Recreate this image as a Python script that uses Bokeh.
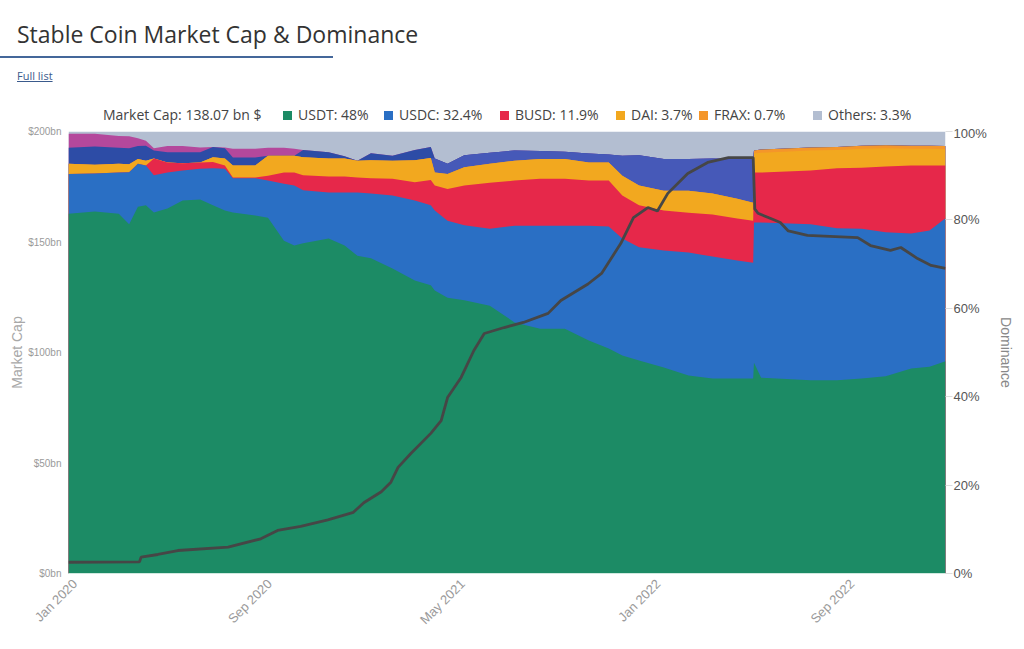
import pandas as pd
from math import pi
from bokeh.plotting import figure
from bokeh.models import (ColumnDataSource, Range1d, LinearAxis, FixedTicker,
                          PrintfTickFormatter, DatetimeTickFormatter, Div)
from bokeh.layouts import column
from bokeh.embed import file_html
from bokeh.resources import INLINE

# ---------------- data (dominance shares in %) ----------------
dates = ["2019-12-24", "2020-01-26", "2020-02-25", "2020-03-09", "2020-03-20", "2020-03-30",
         "2020-04-09", "2020-04-26", "2020-05-15", "2020-06-06", "2020-06-22", "2020-07-07",
         "2020-07-17", "2020-08-14", "2020-08-30", "2020-09-19", "2020-10-02", "2020-10-13",
         "2020-11-14", "2020-12-04", "2020-12-20", "2021-01-06", "2021-02-02", "2021-03-02",
         "2021-03-22", "2021-03-27", "2021-04-12", "2021-05-03", "2021-06-04", "2021-07-05",
         "2021-08-06", "2021-09-06", "2021-10-06", "2021-10-31", "2021-11-17", "2021-12-08",
         "2022-01-08", "2022-02-08", "2022-03-10", "2022-04-10", "2022-04-30", "2022-05-01",
         "2022-05-10", "2022-07-11", "2022-08-13", "2022-09-13", "2022-10-13", "2022-11-14",
         "2022-12-07", "2022-12-27"]
usdt = [81.4, 81.9, 81.4, 79.0, 83.0, 83.3, 81.7, 82.6, 84.4, 84.6, 83.3, 82.1, 81.7, 81.0,
        80.5, 75.3, 74.2, 74.7, 75.8, 74.2, 71.9, 71.3, 69.0, 66.3, 65.2, 64.0, 62.4, 61.8,
        60.6, 56.8, 55.4, 55.4, 52.7, 50.9, 49.3, 48.2, 46.6, 44.8, 44.1, 44.1, 44.1, 47.7,
        44.3, 43.7, 43.7, 44.1, 44.6, 46.4, 46.8, 48.0]
usdc = [9.0, 8.6, 9.3, 11.8, 9.7, 9.0, 8.4, 8.1, 6.8, 7.0, 8.4, 9.5, 7.7, 8.4,
        8.4, 12.9, 13.6, 12.0, 10.4, 12.0, 14.3, 14.7, 16.5, 18.1, 18.1, 18.1, 17.4, 17.0,
        17.4, 21.9, 23.3, 23.3, 26.0, 27.6, 26.5, 25.6, 26.5, 27.8, 27.6, 26.7, 26.2, 31.7,
        35.1, 35.3, 34.4, 33.9, 32.6, 30.5, 30.8, 32.4]
busd = [0.0, 0.0, 0.0, 0.0, 0.0, 0.0, 3.8, 2.3, 1.6, 1.4, 1.4, 0.7, 0.2, 0.2,
        1.1, 2.5, 2.9, 3.4, 3.6, 3.6, 3.4, 3.4, 3.8, 4.1, 5.7, 5.7, 7.2, 9.0,
        10.4, 10.2, 10.6, 10.6, 10.2, 10.4, 9.7, 9.5, 9.0, 9.0, 9.5, 9.5, 9.5, 11.3,
        11.3, 12.2, 13.6, 13.8, 14.9, 15.4, 14.7, 11.9]
dai = [2.3, 2.0, 2.0, 1.8, 1.1, 1.1, 0.0, 0.0, 0.0, 0.0, 1.1, 1.6, 2.7, 2.7,
       4.5, 3.8, 3.8, 4.1, 4.1, 4.1, 3.8, 4.1, 4.1, 5.0, 5.0, 2.9, 3.4, 4.1,
       4.3, 4.5, 4.5, 4.5, 4.1, 4.1, 4.5, 4.5, 4.5, 5.0, 4.8, 4.5, 4.1, 4.3,
       4.5, 4.5, 4.1, 4.3, 4.1, 3.8, 3.8, 3.7]
frax = [0.0] * 41 + [0.7, 0.7, 0.7, 0.7, 0.7, 0.7, 0.7, 0.7, 0.7]
ust = [0.0] * 25 + [3.2, 2.3, 2.7, 2.5, 2.3, 1.8, 1.6, 2.0, 1.8, 4.5, 6.8, 7.2, 7.2, 7.9,
                    9.0, 10.0] + [0.0] * 9
tusd = [3.6, 4.1, 3.6, 3.6, 2.9, 3.4, 1.8, 2.3, 2.5, 2.3, 2.3, 2.3, 1.8, 1.8,
        0.0, 0.0, 0.0, 1.6, 1.4, 0.5, 0.0, 1.6, 1.1, 2.3, 2.5] + [0.0] * 25
pax = [3.2, 2.9, 2.7, 2.7, 1.8, 1.1, 0.5, 1.4, 1.4, 1.1, 0.0, 0.2, 2.0, 2.0,
       1.8, 1.8, 1.6] + [0.0] * 33
others = [0.5, 0.5, 1.0, 1.1, 1.5, 2.1, 3.8, 3.3, 3.3, 3.6, 3.5, 3.6, 3.9, 3.9,
          3.7, 3.7, 3.9, 4.2, 4.7, 5.6, 6.6, 4.9, 5.5, 4.2, 3.5, 6.1, 7.3, 5.4,
          4.8, 4.3, 4.4, 4.6, 5.0, 5.2, 5.5, 5.4, 6.2, 6.2, 6.1, 6.2, 6.1, 4.3,
          4.1, 3.6, 3.5, 3.2, 3.1, 3.2, 3.2, 3.3]

# total market cap (bn $)
mcap_dates = ["2019-12-24", "2020-03-22", "2020-03-24", "2020-04-14", "2020-05-09", "2020-07-11",
              "2020-08-21", "2020-09-11", "2020-10-10", "2020-11-13", "2020-12-15", "2020-12-28",
              "2021-01-19", "2021-01-31", "2021-02-09", "2021-02-25", "2021-03-22", "2021-04-04",
              "2021-04-12", "2021-04-29", "2021-05-15", "2021-05-28", "2021-06-22", "2021-07-16",
              "2021-08-16", "2021-09-01", "2021-10-05", "2021-10-22", "2021-11-15", "2021-12-01",
              "2021-12-19", "2021-12-31", "2022-01-13", "2022-02-07", "2022-03-04", "2022-03-30",
              "2022-04-30", "2022-05-02", "2022-05-06", "2022-05-22", "2022-06-03", "2022-06-13",
              "2022-07-07", "2022-09-08", "2022-09-24", "2022-10-19", "2022-11-01", "2022-11-22",
              "2022-12-09", "2022-12-27"]
mcap_bn = [5.1, 5.3, 7.4, 8.6, 10.4, 11.9, 15.7, 19.5, 21.3, 24.3, 27.7, 32.0,
           37.0, 41.3, 48.0, 54.3, 63.4, 69.2, 79.6, 88.7, 100.9, 108.6, 111.3, 113.6,
           117.7, 123.5, 131.0, 135.8, 149.3, 161.0, 165.6, 164.0, 172.0, 181.0, 186.0, 188.2,
           188.2, 165.0, 163.0, 160.6, 158.8, 155.0, 153.0, 152.0, 148.4, 146.2, 147.5, 142.5,
           139.4, 138.07]

tick_dates = ["2020-01-01", "2020-09-01", "2021-05-01", "2022-01-01", "2022-09-01"]
cap_ticks = [0, 50, 100, 150, 200]
dom_ticks = [0, 20, 40, 60, 80, 100]
title_text = "Stable Coin Market Cap &amp; Dominance"
market_cap_text = "Market Cap: 138.07 bn $"
legend_labels = ["USDT: 48%", "USDC: 32.4%", "BUSD: 11.9%", "DAI: 3.7%", "FRAX: 0.7%", "Others: 3.3%"]

# ---------------- styling ----------------
layer_names = ["USDT", "USDC", "BUSD", "DAI", "FRAX", "UST", "TUSD", "PAX", "Others"]
layer_colors = ["#1c8b65", "#2a6fc4", "#e6284a", "#f2a81f", "#f4962a", "#4659b8",
                "#2d4ca6", "#b4489c", "#b3bed1"]
legend_colors = ["#1c8b65", "#2a6fc4", "#e6284a", "#f2a81f", "#f4962a", "#b3bed1"]

series = [usdt, usdc, busd, dai, frax, ust, tusd, pax, others]
df = pd.DataFrame({"date": pd.to_datetime(dates)})
cum = [0.0] * len(dates)
for name, vals in zip(layer_names, series):
    cum = [c + v for c, v in zip(cum, vals)]
    df["top_" + name] = cum
df["zero"] = 0.0
src = ColumnDataSource(df)
line_src = ColumnDataSource(dict(date=pd.to_datetime(mcap_dates), mcap=mcap_bn))

HEADER_H = 125
p = figure(frame_width=877, frame_height=442, x_axis_type="datetime",
           x_range=Range1d(pd.Timestamp(dates[0]), pd.Timestamp(dates[-1])),
           y_range=Range1d(0, 200), output_backend="svg", toolbar_location=None,
           min_border_left=68, min_border_right=79, min_border_top=131 - HEADER_H,
           min_border_bottom=76, background_fill_color="white", border_fill_color="white")
p.outline_line_color = None
p.xgrid.visible = False
p.ygrid.visible = False
p.extra_y_ranges = {"dom": Range1d(0, 100)}

# cumulative areas drawn top-down (no seams)
for name, color in reversed(list(zip(layer_names, layer_colors))):
    p.varea(x="date", y1="zero", y2="top_" + name, source=src, fill_color=color,
            fill_alpha=1.0, y_range_name="dom")

p.line(x="date", y="mcap", source=line_src, line_color="#464646", line_width=2.8)

# left axis
ya = p.yaxis[0]
ya.ticker = FixedTicker(ticks=cap_ticks)
ya.formatter = PrintfTickFormatter(format="$%dbn")
ya.axis_line_color = None
ya.major_tick_line_color = None
ya.minor_tick_line_color = None
ya.major_tick_in = 0
ya.major_tick_out = 0
ya.major_label_text_font = "Liberation Sans"
ya.major_label_text_font_size = "10px"
ya.major_label_text_color = "#9a9a9a"
ya.major_label_standoff = 7
ya.axis_label = "Market Cap"
ya.axis_label_text_font = "Liberation Sans"
ya.axis_label_text_font_size = "14px"
ya.axis_label_text_font_style = "normal"
ya.axis_label_text_color = "#a8a8a8"
ya.axis_label_standoff = 0

# right axis
ra = LinearAxis(y_range_name="dom", ticker=FixedTicker(ticks=dom_ticks),
                formatter=PrintfTickFormatter(format="%d%%"))
ra.axis_line_color = None
ra.major_tick_in = 0
ra.major_tick_out = 7
ra.major_tick_line_color = "#dddddd"
ra.minor_tick_line_color = None
ra.major_label_standoff = 1
ra.major_label_text_font = "Liberation Sans"
ra.major_label_text_font_size = "13px"
ra.major_label_text_color = "#555555"
ra.axis_label = "Dominance"
ra.axis_label_text_font = "Liberation Sans"
ra.axis_label_text_font_size = "14px"
ra.axis_label_text_font_style = "normal"
ra.axis_label_text_color = "#888888"
ra.axis_label_standoff = 8
p.add_layout(ra, "right")

# x axis
xa = p.xaxis[0]
xa.ticker = FixedTicker(ticks=[pd.Timestamp(d).value // 10**6 for d in tick_dates])
fmt = "%b %Y"
xa.formatter = DatetimeTickFormatter(microseconds=fmt, milliseconds=fmt, seconds=fmt,
                                     minsec=fmt, minutes=fmt, hourmin=fmt, hours=fmt,
                                     days=fmt, months=fmt, years=fmt)
xa.major_label_orientation = pi / 4
xa.major_label_text_font = "Liberation Sans"
xa.major_label_text_font_size = "13px"
xa.major_label_text_color = "#9a9a9a"
xa.axis_line_color = "#cfe9df"
xa.major_tick_line_color = None
xa.minor_tick_line_color = None
xa.major_tick_in = 0
xa.major_tick_out = 0
xa.major_label_standoff = 8

# ---------------- header: title, rule, link and legend row ----------------
sq_x = [283, 384, 500, 616, 699, 813]
legend_html = ('<div style="position:absolute;left:103px;top:106px;font-size:14px;line-height:18px;'
               'color:#444444;white-space:nowrap;">%s</div>' % market_cap_text)
for sx, lab, col in zip(sq_x, legend_labels, legend_colors):
    legend_html += ('<div style="position:absolute;left:%dpx;top:111px;width:9px;height:9px;'
                    'background:%s;"></div>' % (sx, col))
    legend_html += ('<div style="position:absolute;left:%dpx;top:106px;font-size:14px;line-height:18px;'
                    'color:#444444;white-space:nowrap;">%s</div>' % (sx + 15, lab))

header = Div(text="""
<div style="position:relative;width:1024px;height:%dpx;font-family:'Open Sans',sans-serif;">
  <div style="position:absolute;left:17px;top:23px;font-size:23px;line-height:1;color:#333333;white-space:nowrap;">%s</div>
  <div style="position:absolute;left:0px;top:56px;width:333px;height:2px;background:#44679a;"></div>
  <div style="position:absolute;left:17px;top:70px;font-size:11px;line-height:1;color:#3a5a8c;text-decoration:underline;white-space:nowrap;">Full list</div>
  %s
</div>
""" % (HEADER_H, title_text, legend_html), width=1024, height=HEADER_H, margin=(0, 0, 0, 0))

layout = column(header, p, spacing=0)
open("out.html", "w").write(file_html(layout, INLINE))
